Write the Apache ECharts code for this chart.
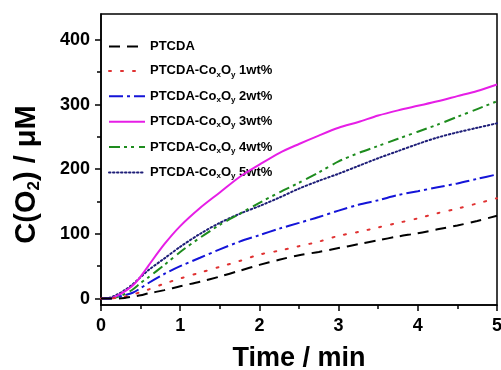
<!DOCTYPE html>
<html><head><meta charset="utf-8">
<script src="https://cdn.jsdelivr.net/npm/echarts@6/dist/echarts.min.js"></script>
<style>html,body{margin:0;padding:0;background:#fff}#c{width:501px;height:370px}</style>
</head><body><div id="c"></div>
<script>
var times = [0,0.1,0.2,0.3,0.4,0.5,0.6,0.8,1.0,1.25,1.5,1.75,2.0,2.25,2.5,2.75,3.0,3.25,3.5,3.75,4.0,4.25,4.5,4.75,5.0];
var seriesNames = ['PTCDA','PTCDA-CoxOy 1wt%','PTCDA-CoxOy 2wt%','PTCDA-CoxOy 3wt%','PTCDA-CoxOy 4wt%','PTCDA-CoxOy 5wt%'];
var ptcda = [0,0,0,1,3,5,8,13,19,26,34,43,52,60,67,72,78,84,90,96,101,107,113,120,128];
var wt1 = [0,0,1,3,6,10,14,23,31,40,49,58,68,74,81,88,97,103,110,117,124,132,139,147,155];
var wt2 = [0,0,2,5,9,16,24,38,50,63,76,88,98,108,117,126,136,145,152,160,166,172,178,185,192];
var wt3 = [0,0,4,11,20,34,51,84,112,140,164,188,207,225,239,252,264,273,283,291,298,305,313,321,331];
var wt4 = [0,0,2,7,14,24,33,52,72,94,114,131,148,164,179,195,212,225,236,247,258,269,281,293,305];
var wt5 = [0,1,6,13,22,33,44,62,80,100,117,131,143,156,170,182,193,205,217,228,239,249,257,264,271];
var xTicks = [0,1,2,3,4,5];
var yTicks = [0,100,200,300,400];
var yMinorTicks = [50,150,250,350];

var values = [ptcda, wt1, wt2, wt3, wt4, wt5];
var colors = ['#000000','#e03232','#1414d8','#e61ee6','#1e8c1e','#1e1e78'];
var dashes = [[11,7],[2,10],[14,4,3,4],'solid',[11,4,3,4,3,5],[1.5,2.5]];

function pairs(arr){ return times.map(function(t,i){ return [t, arr[i]]; }); }

var font = 'Liberation Sans, Arial, sans-serif';
var series = values.map(function(v,i){
  return {
    name: seriesNames[i], type:'line', data: pairs(v), symbol:'none', showSymbol:false, smooth:0.3,
    lineStyle:{color:colors[i], width:2, type:dashes[i], cap: i===1||i===5 ? 'round':'butt'},
    itemStyle:{color:colors[i]}, z: 10-i
  };
});

var chart = echarts.init(document.getElementById('c'), null, {renderer:'canvas'});
chart.setOption({
  animation:false,
  backgroundColor:'#fff',
  grid:{left:101, right:4, top:14, bottom:65, outerBoundsMode:'none', containLabel:false, show:true, borderColor:'#000', borderWidth:1.5, backgroundColor:'transparent'},
  legend:{
    left:103, top:35, orient:'vertical', itemWidth:36, itemHeight:14, itemGap:11.4,
    data: seriesNames,
    itemStyle:{opacity:0},
    formatter:function(n){
      if(n==='PTCDA') return '{a|PTCDA}';
      var m = n.split(' ');
      return '{a|PTCDA-Co}{s|x}{a|O}{s|y}{a| '+m[1]+'}';
    },
    textStyle:{rich:{
      a:{fontFamily:font, fontWeight:'bold', fontSize:13, color:'#000'},
      s:{fontFamily:font, fontWeight:'bold', fontSize:8, color:'#000', verticalAlign:'bottom', padding:[7,0,0,0]}
    }}
  },
  xAxis:{
    type:'value', min:0, max:5, interval:1,
    name:'Time / min', nameLocation:'middle', nameGap:40,
    nameTextStyle:{fontFamily:font, fontWeight:'bold', fontSize:27, color:'#000'},
    axisLine:{show:true, onZero:false, lineStyle:{color:'#000', width:1.5}},
    axisTick:{show:true, inside:false, length:6, lineStyle:{color:'#000', width:1.5}},
    minorTick:{show:true, splitNumber:2, length:4, lineStyle:{color:'#000', width:1.5}},
    axisLabel:{fontFamily:font, fontWeight:'bold', fontSize:18, color:'#000', margin:12,
      formatter:function(v){ return xTicks.indexOf(v)>=0 ? String(v) : ''; }},
    splitLine:{show:false}
  },
  yAxis:[{
    type:'value', min:-10, max:440,
    name:'{a|C(O}{s|2}{a|) / μM}', nameLocation:'middle', nameGap:58, nameRotate:90,
    nameTextStyle:{padding:[0,30,0,0], rich:{
      a:{fontFamily:font, fontWeight:'bold', fontSize:29, color:'#000'},
      s:{fontFamily:font, fontWeight:'bold', fontSize:17, color:'#000', verticalAlign:'bottom', padding:[15,0,0,0]}
    }},
    axisLine:{show:true, onZero:false, lineStyle:{color:'#000', width:1.5}},
    axisTick:{show:true, inside:false, length:6, customValues:yTicks, lineStyle:{color:'#000', width:1.5}},
    axisLabel:{fontFamily:font, fontWeight:'bold', fontSize:18, color:'#000', margin:11, customValues:yTicks},
    splitLine:{show:false}
  },{
    type:'value', min:-10, max:440, position:'left',
    axisLine:{show:false},
    axisTick:{show:true, inside:false, length:4, customValues:yMinorTicks, lineStyle:{color:'#000', width:1.5}},
    axisLabel:{show:false},
    splitLine:{show:false}
  }],
  series: series
});
</script></body></html>
